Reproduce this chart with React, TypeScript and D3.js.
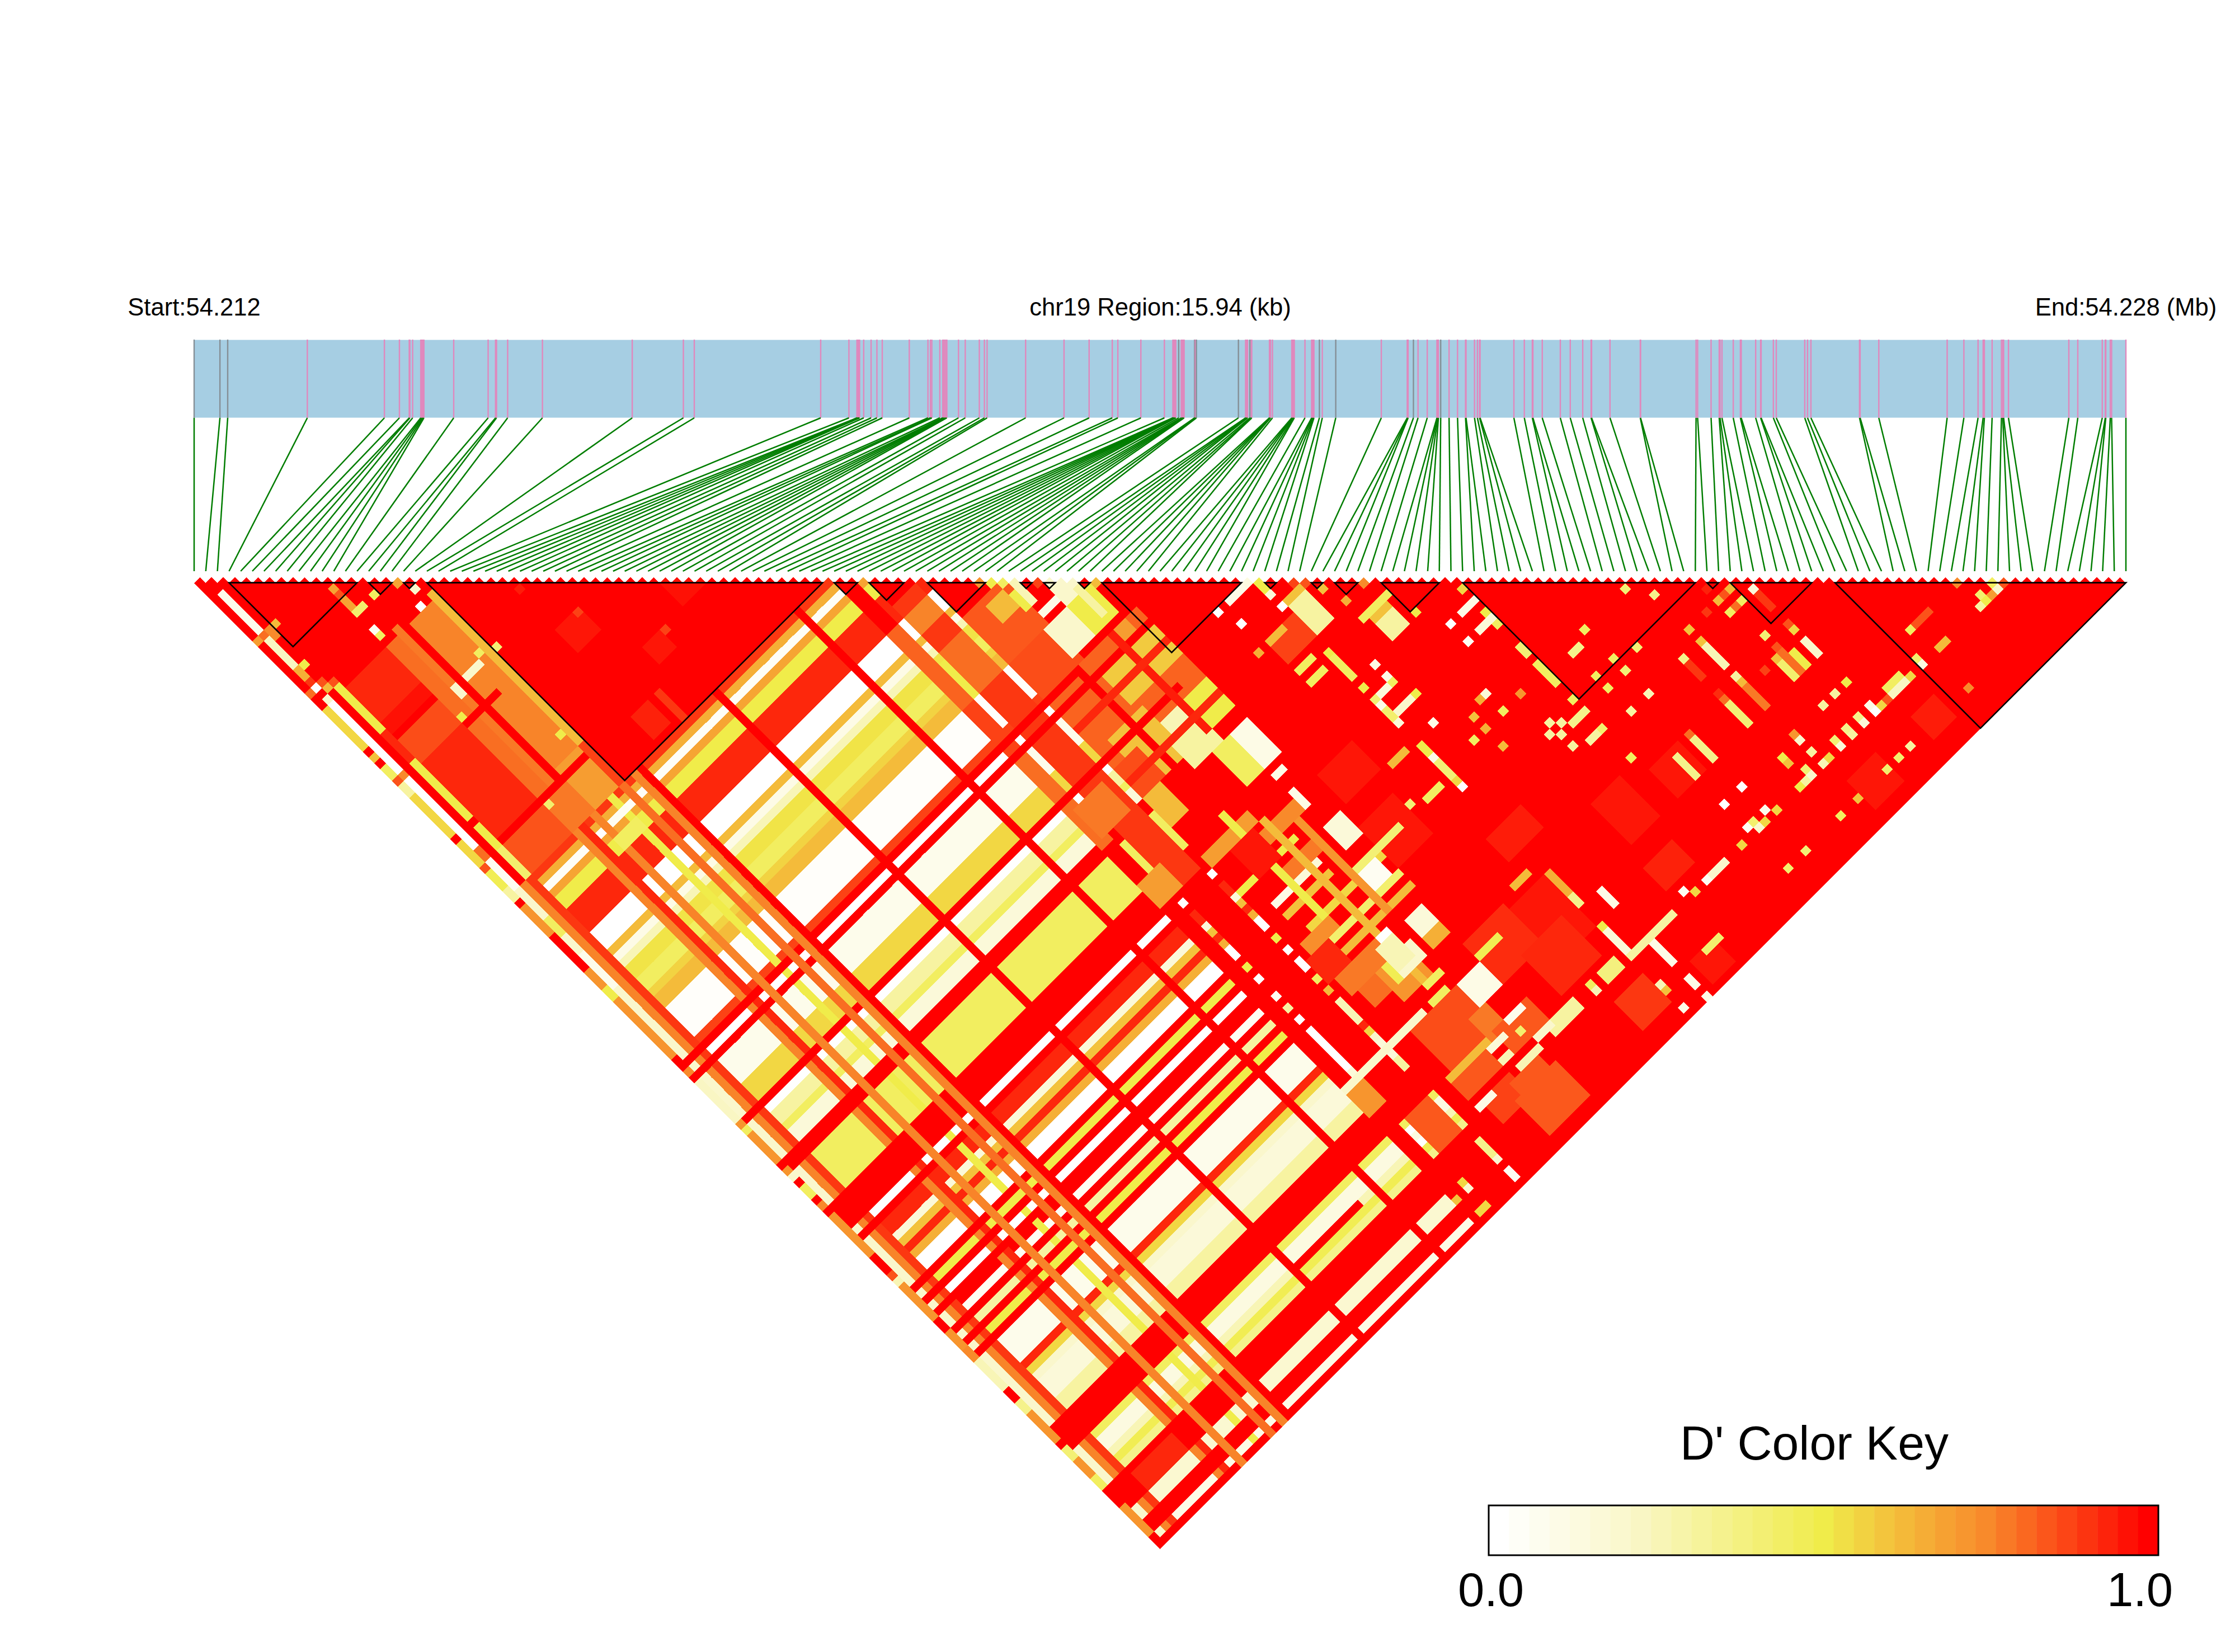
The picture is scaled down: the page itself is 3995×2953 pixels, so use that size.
import * as d3 from 'd3'

type Patch = [number, number, number, number, number]

// snp offsets from the region start, in bp
const snpBp = [0,213,277,934,1570,1694,1775,1780,1803,1870,1879,1888,1896,2142,2426,2487,2495,2587,2874,3615,4037,4127,5170,5403,5469,5477,5485,5491,5525,5586,5634,5678,5901,6055,6076,6087,6153,6177,6185,6193,6203,6211,6307,6363,6479,6521,6543,6861,7178,7385,7576,7622,7812,8006,8076,8081,8084,8088,8092,8097,8100,8124,8145,8152,8159,8164,8169,8255,8261,8270,8617,8676,8681,8688,8693,8712,8723,8727,8873,8876,8878,8882,8898,9057,9062,9066,9073,9078,9166,9221,9227,9234,9240,9285,9309,9420,9796,10010,10014,10017,10061,10099,10175,10255,10258,10262,10267,10286,10355,10425,10491,10495,10565,10589,10607,10611,10890,10976,11042,11047,11124,11273,11355,11458,11527,11531,11683,11933,11935,12393,12406,12517,12584,12591,12607,12700,12759,12766,12885,12926,12930,13031,13055,13290,13313,13341,13742,13747,13901,14465,14603,14720,14762,14772,14836,14913,14924,14931,14971,15469,15543,15745,15770,15774,15811,15822,15940]
const greySnps = [0,1,2,61,67,69,70,75,93,95,100,107]

const blocks = [[3,14],[15,17],[18,19],[20,54],[55,57],[58,61],[63,68],[71,72],[73,74],[76,77],[78,90],[92,93],[96,97],[98,100],[102,107],[109,129],[130,131],[132,139],[141,166]]

// rows that share the pale plaid, and D' along j for those rows
const paleRows = [[4,10],[13,13],[15,16],[18,18],[20,20],[23,34],[36,48],[50,54],[57,57],[62,62]]
const paleRuns = [[54,54,.9],[55,55,.65],[56,56,.03],[57,57,.68],[58,59,.5],[60,63,.93],[64,66,0],[67,67,.62],[68,68,.1],[69,69,.25],[70,71,.52],[72,73,.45],[74,74,.56],[75,76,.62],[77,81,.02],[82,82,.88],[83,83,1],[84,84,0],[85,85,1],[86,89,.08],[90,92,.55],[93,93,1],[94,94,0],[95,96,.3],[97,97,.45],[98,99,.15],[100,101,1],[102,107,.45],[108,111,1],[112,112,0],[113,113,1],[114,115,.93],[116,116,.15],[117,117,.6],[118,118,.93],[119,119,.65],[120,121,0],[122,122,1],[123,123,.5],[124,124,1],[125,125,0],[126,127,1],[128,128,.05],[129,129,1],[130,130,.3],[131,131,1],[132,132,.5],[133,133,1],[134,137,.08],[138,138,.93],[139,139,.55],[140,140,.2],[141,143,.15],[144,145,.3],[146,149,1],[150,150,.45],[151,152,.12],[153,153,.25],[154,154,.48],[155,155,.35],[156,159,1],[160,161,.18],[162,163,1],[164,164,.1],[165,165,1]]
const redCols = [83,85,93,100,101,108,109,110,111,113,122,124,126,129,131,133,146,147,148,149,156,157,158,159,162,163,165]

// laid down before the pale plaid, i0 i1 j0 j1 D'
const underBands: Patch[] = [
  [15,18,22,46,.76],[19,19,21,46,.62],[13,13,21,47,.78],[14,14,21,47,1],[11,12,22,47,.8],
  [15,18,47,53,.7],[19,19,47,53,.88],[11,14,49,53,.78],[11,18,48,48,1],[11,16,35,35,1],
  [4,10,22,27,.93],[4,10,28,29,.97],[4,10,31,34,.86],[4,10,35,35,.93],[4,10,36,47,.93],[4,10,49,53,.85],
  [3,3,21,28,.5],[3,3,29,33,.93],[3,3,34,43,.5],[3,3,45,48,.5],[3,3,49,53,.42],
  [1,1,22,33,0],[1,1,34,34,.75],[1,1,35,46,0],[1,1,47,48,.8],[1,1,49,53,.05],
  [1,1,54,58,.2],[1,1,59,61,.45],[1,1,62,64,.2],[1,1,65,70,.08],[1,1,71,165,.2],
  [2,2,54,165,.76],[3,3,54,165,.9],
  [11,11,54,165,.76],[12,12,54,165,.93],[14,14,54,165,.76],[17,17,54,165,.5],[19,19,54,165,.8],
  [21,21,54,165,.76],[22,22,54,165,1],
]

// laid over the plaid: the middle of the triangle
const overBands: Patch[] = [
  [55,56,64,76,.82],[55,56,77,85,.88],[55,56,86,100,.8],[58,61,62,110,.9],[58,61,64,66,.76],[58,61,70,76,.8],
  [56,60,95,99,.78],[55,58,107,110,.7],
  [63,69,69,76,.84],[66,68,70,72,.62],[63,69,77,82,.86],[69,72,77,81,.2],[73,76,77,81,.5],
  [63,78,83,99,.82],[70,78,86,90,.58],[65,70,92,99,.6],[72,78,95,99,.5],[63,66,95,99,.86],[74,76,83,85,.7],
  [70,74,98,101,.3],[71,73,95,97,.25],[63,65,100,104,.62],[75,78,102,107,.1],[73,75,102,107,.45],
  [55,78,85,85,1],[55,68,83,83,1],[50,75,93,93,1],[68,68,83,99,1],[74,74,83,99,.95],[63,78,88,88,.93],[63,78,97,97,.93],
  [65,72,120,120,.15],[65,72,122,122,.6],[66,78,125,125,.55],[66,78,128,128,.42],[66,78,130,130,.62],[63,72,116,116,.5],
  [66,76,113,114,.75],[63,70,110,111,.7],[68,74,118,119,.78],[64,70,132,134,.78],[68,72,135,139,.72],[64,68,126,127,.74],
  [68,68,108,125,.5],[71,71,112,140,.62],[74,74,115,130,.72],[71,72,132,132,0],[65,67,120,120,.1],
  [75,77,124,127,.05],[75,77,133,137,.15],[75,77,136,137,.65],[73,77,143,146,.1],[70,73,135,137,.2],
  [63,66,128,131,.93],[65,67,135,137,.8],[66,73,143,149,.86],[65,72,150,150,.62],[72,74,147,150,.78],[73,78,150,153,.84],
  [66,70,155,158,.88],[70,74,156,160,.84],[69,75,158,163,.84],[86,90,158,162,.9],[85,90,141,149,.96],
  [87,92,97,100,.88],[92,94,96,100,.3],[92,94,95,95,.6],[98,100,105,107,.3],[98,100,104,104,.6],
  [78,82,154,155,.3],[76,78,154,154,.2],[65,67,155,155,.1],[65,70,151,153,.84],[58,61,150,155,.84],[55,57,143,146,.72],
  [66,69,112,116,.96],[80,85,113,117,.96],[79,84,121,127,.96],[89,94,133,136,.95],[101,105,139,145,.96],[109,113,141,145,.96],
  [125,129,159,163,.96],[136,139,159,162,.95],[96,99,161,164,.96],[100,104,149,152,.94],[78,84,140,146,.92],[82,88,146,152,.93],
  // lighter cells inside the long block
  [27,30,35,38,.96],[30,30,35,35,.88],[36,36,44,44,.88],[30,30,49,53,.9],[26,28,49,52,.94],[27,27,28,28,.95],[40,43,40,43,.97],[33,35,44,46,.96],
]

// the first rows, along the lower left edge
const edgeRows: Patch[] = [
  [1,1,3,9,.08],[0,0,10,10,.7],[1,1,10,10,.8],[2,2,10,11,.75],[3,3,10,10,.62],[1,1,11,15,.22],[1,1,16,17,.65],[2,2,16,16,.5],[1,1,18,18,.9],
  [1,1,19,19,0],[2,2,19,19,.85],[2,2,20,20,.62],[3,3,20,20,.85],[0,0,19,19,.8],[1,1,21,21,.2],
  [0,0,22,28,.55],[0,0,30,30,.6],[0,0,32,33,.45],[0,0,34,34,.85],[0,0,35,36,.3],[0,0,37,43,.55],[0,0,45,48,.55],[0,0,49,49,.85],[0,0,50,52,.48],[0,0,53,54,.3],
  [0,0,56,60,.72],[0,0,67,69,.72],[0,0,70,71,.5],[0,0,72,81,.72],[0,0,84,84,.75],[0,0,86,92,.22],[0,0,93,93,.72],[0,0,94,94,.45],[0,0,95,99,.72],[0,0,101,101,.72],[0,0,102,102,.2],[0,0,104,105,.45],[0,0,107,107,.75],
  [0,0,109,110,.72],[0,0,111,113,.72],[0,0,114,115,.72],[0,0,119,119,.85],[0,0,120,120,.25],[0,0,121,126,.72],[0,0,129,131,.72],[0,0,132,133,.75],[0,0,134,138,.25],[0,0,141,142,.35],[0,0,143,147,.72],[0,0,149,150,.4],[0,0,151,153,.72],[0,0,154,155,.45],[0,0,159,163,.72],
  [11,11,12,12,.68],[11,11,13,13,.85],[11,11,14,15,.68],[11,12,16,16,.42],[14,14,16,16,.45],[11,11,19,19,.05],[11,11,20,20,.45],[17,17,17,17,.68],[17,17,21,21,0],[18,18,19,19,.2],
  [20,20,31,31,.4],[11,11,34,34,.5],[11,11,49,49,.42],[15,17,31,31,.2],[13,13,31,32,.2],[18,18,30,30,.45],[18,18,44,44,.5],
  [15,17,56,56,.05],[14,17,58,59,.45],[13,13,56,56,0],
]

// single cells and short runs read one by one
const spots: Patch[] = [
  [67,67,67,67,.72],[68,68,68,68,.5],[69,69,69,69,.45],[70,70,70,70,.25],[72,72,72,72,.88],[74,74,74,74,.22],[75,75,75,75,.08],[77,77,77,77,.62],
  [90,90,90,90,.12],[91,91,91,92,.5],[94,94,94,94,.88],[95,95,95,95,.85],[100,100,100,100,.75],[151,151,151,151,.75],
  [70,70,70,73,.25],[69,69,71,73,.5],[70,73,75,75,.1],[73,75,73,76,.2],[75,75,76,80,.3],
  [57,57,71,76,.5],[57,57,84,84,0],[62,62,102,107,.45],[36,46,153,153,1],[4,10,157,159,.93],
  [62,62,127,128,0],[62,62,130,130,.45],[62,62,132,132,.62],[62,62,134,137,.25],[62,62,142,142,.05],[62,62,158,160,.35],[62,62,163,164,.05],
  [57,57,132,132,0],[57,57,134,137,0],[57,57,138,140,0],[57,57,151,151,0],[57,57,153,153,0],[57,57,160,160,.55],[55,55,161,161,.6],[56,57,164,164,.55],
  [55,68,142,142,.2],[69,69,135,137,.48],[70,72,133,136,.25],[71,73,140,140,.45],[70,72,142,142,.45],
  [71,73,151,151,.15],[71,72,153,153,.25],[72,75,155,155,.25],[75,75,152,152,.42],[75,77,150,150,.08],
  [78,81,142,142,.48],[75,82,124,124,.4],[76,76,112,114,.1],[76,78,118,121,.15],[76,77,109,109,.1],
  [85,85,90,90,0],[87,89,90,90,.1],[91,91,93,93,.15],[91,91,95,95,0],[86,86,93,93,0],[85,85,97,97,.65],[87,89,97,97,.62],
  [87,89,102,102,.45],[87,89,104,104,.45],[91,91,103,103,.5],[91,91,104,107,.45],[96,96,97,97,.6],[97,97,100,100,.65],[97,101,103,103,.45],[102,102,107,107,.5],
  [91,91,109,109,.5],[94,94,108,108,.1],[94,94,110,110,.1],[94,94,111,111,.45],[92,93,111,111,.15],[91,91,111,111,.4],[91,91,112,112,.1],[91,91,113,114,.42],[91,91,115,115,.15],[92,94,114,114,.2],[95,95,114,114,.5],
  [87,89,118,118,.62],[94,94,118,118,.1],[91,91,119,120,.5],[91,91,121,121,.1],[91,91,122,124,.4],[91,91,125,125,.55],[91,91,126,126,0],[87,89,124,124,.45],[85,85,123,123,.4],
  [101,101,123,123,.45],[98,98,121,121,.6],[98,98,123,123,.65],[96,96,123,123,.45],[98,98,126,126,.62],[104,104,123,123,.72],[101,101,120,120,.15],[100,100,120,120,.65],
  [104,104,111,111,0],[104,104,114,114,.05],[106,108,111,111,.1],[108,108,109,109,.55],[108,108,113,113,.5],[108,108,114,114,.15],[108,108,115,115,.45],[106,107,114,114,.15],[108,108,119,120,.4],[108,108,122,125,.45],
  [115,115,123,123,.45],[112,113,124,124,.35],[115,115,128,128,.45],[118,118,129,129,.4],[112,112,128,128,.45],[115,115,130,130,.4],[112,112,130,130,.45],[115,115,134,134,.25],[112,112,134,134,.3],[108,108,138,138,.45],
  [122,122,123,123,.4],[124,124,126,126,.35],[108,108,128,128,.45],[106,108,130,130,.35],
  [104,104,128,128,.3],[105,105,129,129,.3],[103,103,129,129,.3],[104,104,130,130,.3],[108,108,133,133,.42],[106,107,133,133,.3],[104,104,132,132,.3],
  [91,91,141,144,.65],[91,91,145,146,.35],[87,89,139,139,.62],[91,91,150,150,.5],[91,91,151,154,.15],[91,91,155,155,.3],[92,98,155,155,.3],[94,94,147,149,.1],[87,89,154,155,.38],[94,94,156,159,.1],[85,85,154,154,.45],[85,85,155,155,.25],
  [91,91,160,160,.25],[91,91,161,161,.6],[94,94,162,163,.1],[94,94,165,165,.1],[91,91,164,164,.1],[98,100,161,161,.42],
  [133,133,134,134,.15],[133,133,135,137,.9],[131,131,132,132,.62],[130,130,132,132,.85],[129,129,132,132,.62],[131,131,134,134,.45],[130,130,134,134,.8],[129,129,134,134,.45],[127,127,132,132,.9],[129,129,130,130,.94],
  [124,124,132,132,.6],[124,124,134,134,.6],[124,124,135,138,.25],[121,121,134,134,.35],[121,121,135,137,.9],[124,124,140,140,.3],[124,124,141,141,.62],[130,130,139,139,.4],[133,133,140,140,.85],[133,133,141,141,.55],[133,133,143,145,.2],
  [129,129,142,142,.6],[129,129,143,145,.42],[131,131,143,143,.5],[131,131,144,145,.5],[130,130,142,145,.8],[130,130,141,141,.85],[127,127,142,142,.88],[121,121,140,140,.92],[124,124,142,145,.78],[121,121,141,141,.8],[121,121,142,145,.4],[115,115,141,141,.8],[115,115,142,145,.35],[112,112,142,145,.35],
  [133,133,150,150,.5],[131,131,150,150,.3],[129,129,150,150,.3],[124,124,150,150,.72],[124,124,151,151,.2],[124,124,153,153,.3],[127,127,154,154,.4],[127,127,155,155,.15],[125,125,155,155,.55],[124,124,155,155,.25],[122,122,154,154,.4],[122,122,155,155,.2],[120,120,155,155,.5],[121,121,155,155,.3],[121,121,151,151,.5],[121,121,152,152,.6],
  [131,131,154,154,.35],[131,131,155,155,.15],[129,129,154,154,.35],[129,129,155,155,.3],[133,133,154,154,.1],[133,133,155,155,0],[134,134,155,155,.55],[136,138,154,154,.45],[136,138,155,155,.22],[139,139,155,155,.55],[135,135,155,155,.85],[141,141,154,154,.42],[141,141,155,155,.12],
  [143,143,151,151,.45],[144,146,151,151,.85],[144,145,155,155,.62],[152,152,154,154,.42],[151,151,155,155,.3],[152,152,155,155,.5],[153,153,155,155,.7],[154,154,155,155,.2],[154,154,154,154,.45],[155,155,155,155,.85],
  [143,143,161,161,.75],[124,124,161,161,.6],[121,121,161,161,.45],[129,129,161,161,.42],[131,131,161,161,.42],[133,133,161,161,.3],
  [115,115,150,150,0],[112,112,150,150,0],[115,115,154,154,.08],[116,116,155,155,.55],[113,113,154,154,.42],[114,114,155,155,.55],[113,113,155,155,.2],[112,112,154,154,.05],[110,110,155,155,.55],[115,115,161,161,.4],[112,112,161,161,.42],
  [105,107,155,155,.2],[104,104,155,155,.05],[102,102,155,155,.55],[101,101,154,154,.05],
]

const matrix: number[][] = d3.range(166).map(() => d3.range(166).map(() => 1))
const paint = ([i0, i1, j0, j1, v]: Patch) => {
  for (let i = i0; i <= i1; i++) for (let j = Math.max(i, j0); j <= j1; j++) matrix[i][j] = v
}
underBands.forEach(paint)
paleRows.forEach(([i0, i1]) => paleRuns.forEach(([j0, j1, v]) => paint([i0, i1, j0, j1, v])))
;[[1, 3], [11, 12], [17, 18]].forEach(([i0, i1]) => redCols.forEach(j => paint([i0, i1, j, j, 1])))
overBands.forEach(paint)
edgeRows.forEach(paint)
spots.forEach(paint)

const ramp = d3.scaleLinear<string>()
  .domain([0, .2, .5, .6, .75, 1])
  .range(['#ffffff', '#faf7cc', '#f0ec4a', '#f3c23c', '#f88a2b', '#ff0000'])

const keySteps = d3.range(33).map(k => k / 32)

const rank = d3.scaleLinear().domain([0, 166]).range([347, 3800])
const genome = d3.scaleLinear().domain([0, 15940]).range([347, 3800])
const drop = d3.scaleLinear().domain([0, 165]).range([1042.4, 2758.4])
const keyX = d3.scaleBand<number>().domain(keySteps).range([2661, 3858])

const half = rank(1) - rank(0)
const cells = d3.range(166).flatMap(i => d3.range(i, 166).map(j => ({ i, j, v: matrix[i][j] })))
const diamond = (i: number, j: number) => {
  const x = rank((i + j + 1) / 2), y = drop(j - i), h = half / 2 + .25
  return `M${x},${y - h}L${x + h},${y}L${x},${y + h}L${x - h},${y}Z`
}

const font = "'Liberation Sans', Arial, sans-serif"

export default function App() {
  return (
    <svg width={3995} height={2953} style={{ position: 'absolute', left: 0, top: 0, background: '#fff' }} fontFamily={font}>
      <text x={347} y={564} fontSize={43.6} textAnchor="middle">Start:54.212</text>
      <text x={2074} y={564} fontSize={43.6} textAnchor="middle">chr19 Region:15.94 (kb)</text>
      <text x={3800} y={564} fontSize={43.6} textAnchor="middle">End:54.228 (Mb)</text>

      <rect x={347} y={607.6} width={3453} height={139} fill="#a6cee3" />
      {snpBp.map((bp, k) => (
        <g key={k}>
          <line x1={genome(bp)} x2={genome(bp)} y1={607} y2={747}
            stroke={greySnps.includes(k) ? '#858f96' : '#e088bd'} strokeWidth={2.4} />
          <line x1={genome(bp)} y1={747} x2={rank(k)} y2={1021} stroke="#007d00" strokeWidth={2.5} />
        </g>
      ))}

      <g shapeRendering="crispEdges">
        {cells.map(c => <path key={`${c.i}-${c.j}`} d={diamond(c.i, c.j)} fill={ramp(c.v)} />)}
      </g>
      {blocks.map(([a, b]) => (
        <path key={a} fill="none" stroke="#000" strokeWidth={2.6}
          d={d3.line()([[rank(a), 1041.6], [rank((a + b) / 2), 1041.6 + (b - a) * half / 2], [rank(b), 1041.6]]) + 'Z'} />
      ))}

      <text x={3243} y={2609} fontSize={86} textAnchor="middle">D' Color Key</text>
      {keySteps.map(s => (
        <rect key={s} x={keyX(s)} y={2691} width={keyX.bandwidth() + .5} height={89} fill={ramp(s)} />
      ))}
      <rect x={2661} y={2691} width={1197} height={89} fill="none" stroke="#000" strokeWidth={3} />
      <text x={2665} y={2871} fontSize={85} textAnchor="middle">0.0</text>
      <text x={3825} y={2871} fontSize={85} textAnchor="middle">1.0</text>
    </svg>
  )
}
